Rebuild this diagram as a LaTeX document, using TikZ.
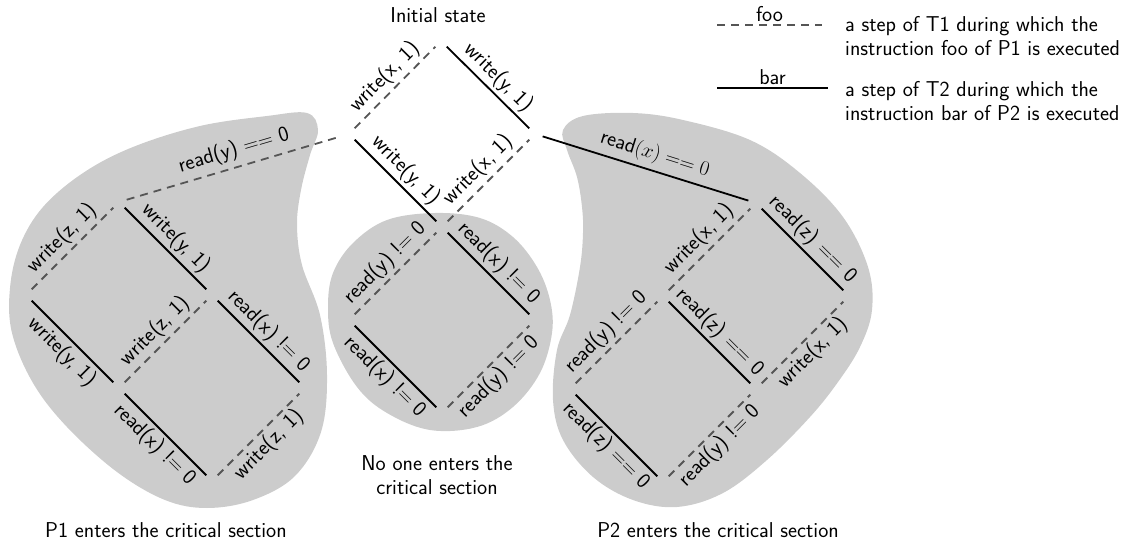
\documentclass[tikz,border=0pt]{standalone}
\definecolor{dashgray}{RGB}{85,85,85}
\definecolor{blobgray}{RGB}{204,204,204}
\tikzset{
  txt/.style={font=\fontsize{21.5}{24}\selectfont\sffamily, inner sep=3pt},
  lbl/.style={txt, sloped},
  tone/.style={draw=dashgray, line width=1.8pt, dash pattern=on 8pt off 6pt,
               shorten <=8pt, shorten >=8pt},
  ttwo/.style={draw=black, line width=1.8pt, shorten <=8pt, shorten >=8pt},
  blob/.style={fill=blobgray},
  keytext/.style={txt, anchor=base west, inner sep=0pt},
}
\newcommand{\neqz}{!$=$ 0}
\newcommand{\eqz}{$==$ 0}
\begin{document}
\begin{tikzpicture}[x=1pt,y=-1pt]
\useasboundingbox (0,0) rectangle (1143,545);

% shaded regions
\fill[blob] plot[smooth cycle, tension=0.6] coordinates {
  (133,147) (200,126) (267,116) (307,113) (318,130) (310,155) (301,190)
  (297,225) (302,265) (320,315) (327,375) (321,432) (295,476) (253,500)
  (207,508) (165,500) (117,472) (67,427) (33,383) (12,333) (10,288)
  (20,245) (43,207) (83,173)};
\fill[blob] plot[smooth cycle, tension=0.6] coordinates {
  (435,213) (480,218) (513,237) (537,267) (550,300) (552,333) (540,373)
  (513,407) (477,427) (430,430) (387,413) (357,387) (333,343) (328,307)
  (333,273) (353,243) (387,220)};
\fill[blob] plot[smooth cycle, tension=0.6] coordinates {
  (563,130) (583,116) (633,113) (683,120) (750,140) (800,173) (843,217)
  (868,267) (872,310) (860,347) (838,382) (810,417) (767,460) (723,493)
  (677,507) (633,500) (593,477) (563,440) (553,400) (557,350) (570,315)
  (580,267) (583,233) (582,207) (577,177) (567,150)};

% states
\coordinate (T0) at (441,41);
\coordinate (T1) at (349,134);
\coordinate (T2) at (535,134);
\coordinate (T3) at (442,227);
\coordinate (M1) at (349,320);
\coordinate (M2) at (535,320);
\coordinate (M3) at (442,413);
\coordinate (A) at (119,202);
\coordinate (B) at (26,295);
\coordinate (C) at (212,295);
\coordinate (D) at (119,388);
\coordinate (E) at (305,388);
\coordinate (F) at (212,481);
\coordinate (G) at (756,203);
\coordinate (H) at (663,296);
\coordinate (I) at (849,296);
\coordinate (J) at (570,389);
\coordinate (K) at (756,389);
\coordinate (L) at (663,482);

% initial square
\draw[tone] (T1) -- node[lbl,above]{write(x, 1)} (T0);
\draw[ttwo] (T0) -- node[lbl,above]{write(y, 1)} (T2);
\draw[ttwo] (T1) -- node[lbl,above]{write(y, 1)} (T3);
\draw[tone] (T3) -- node[lbl,above]{write(x, 1)} (T2);

% nobody in the critical section
\draw[tone] (M1) -- node[lbl,above]{read(y) \neqz} (T3);
\draw[ttwo] (T3) -- node[lbl,above]{read(x) \neqz} (M2);
\draw[ttwo] (M1) -- node[lbl,below]{read(x) \neqz} (M3);
\draw[tone] (M3) -- node[lbl,below]{read(y) \neqz} (M2);

% P1 in the critical section
\draw[tone] (A) -- node[lbl,above=2pt, pos=0.52]{read(y) \eqz} (T1);
\draw[tone] (B) -- node[lbl,above]{write(z, 1)} (A);
\draw[ttwo] (A) -- node[lbl,above]{write(y, 1)} (C);
\draw[ttwo] (B) -- node[lbl,below]{write(y, 1)} (D);
\draw[tone] (D) -- node[lbl,above]{write(z, 1)} (C);
\draw[ttwo] (C) -- node[lbl,above]{read(x) \neqz} (E);
\draw[ttwo] (D) -- node[lbl,below]{read(x) \neqz} (F);
\draw[tone] (F) -- node[lbl,below]{write(z, 1)} (E);

% P2 in the critical section
\draw[ttwo] (T2) -- node[lbl,above=2pt, pos=0.52]{read$(x) == 0$} (G);
\draw[tone] (H) -- node[lbl,above]{write(x, 1)} (G);
\draw[ttwo] (G) -- node[lbl,above]{read(z) \eqz} (I);
\draw[tone] (J) -- node[lbl,above]{read(y) \neqz} (H);
\draw[ttwo] (H) -- node[lbl,above]{read(z) \eqz} (K);
\draw[tone] (K) -- node[lbl,below]{write(x, 1)} (I);
\draw[ttwo] (J) -- node[lbl,below]{read(z) \eqz} (L);
\draw[tone] (L) -- node[lbl,below]{read(y) \neqz} (K);

% captions
\node[txt] (init) at (438,15) {Initial state};
\node[txt, align=center] (none) at (437,475) {No one enters the\\critical section};
\node[txt] (p1) at (166,530) {P1 enters the critical section};
\node[txt] (p2) at (718,530) {P2 enters the critical section};

% legend
\coordinate (la) at (717,25);
\coordinate (lb) at (822,25);
\coordinate (lc) at (717,88);
\coordinate (ld) at (828,88);
\draw[draw=dashgray, line width=1.8pt, dash pattern=on 8pt off 6pt]
  (la) -- node[txt, above=-1pt]{foo} (lb);
\draw[line width=1.8pt] (lc) -- node[txt, above=-1pt]{bar} (ld);
\node[keytext] (k1) at (845,32) {a step of T1 during which the};
\node[keytext] (k2) at (845,56) {instruction foo of P1 is executed};
\node[keytext] (k3) at (845,97) {a step of T2 during which the};
\node[keytext] (k4) at (845,121) {instruction bar of P2 is executed};
\end{tikzpicture}
\end{document}
